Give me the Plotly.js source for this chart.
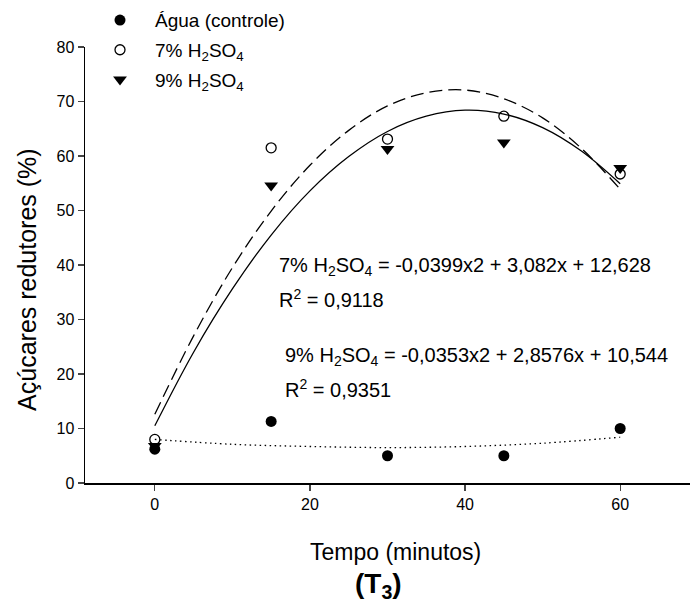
<!DOCTYPE html>
<html>
<head>
<meta charset="utf-8">
<script src="https://cdn.plot.ly/plotly-3.0.1.min.js"></script>
<style>html,body{margin:0;padding:0;background:#fff;}#chart{width:691px;height:604px;}</style>
</head>
<body>
<div id="chart"></div>
<script>
var tempo = [0, 15, 30, 45, 60];
var agua = [6.2, 11.3, 5.0, 5.0, 10.0];
var h2so4_7 = [8.0, 61.5, 63.1, 67.3, 56.7];
var h2so4_9 = [6.8, 54.6, 61.3, 62.5, 57.8];

// Fitted curves
var fitX = [0, 5, 10, 15, 20, 25, 30, 35, 40, 45, 50, 55, 60];
var fit7 = [12.6, 27.0, 39.5, 49.9, 58.3, 64.7, 69.2, 71.6, 72.1, 70.5, 67.0, 61.4, 53.9];
var fit9 = [10.5, 24.0, 35.6, 45.5, 53.6, 59.9, 64.5, 67.3, 68.4, 67.7, 65.2, 60.9, 54.9];
var fitAguaX = [0, 10, 20, 30, 40, 50, 60];
var fitAgua = [8.0, 7.1, 6.7, 6.5, 6.7, 7.3, 8.4];

var seriesNames = ['Água (controle)', '7% H<sub>2</sub>SO<sub>4</sub>', '9% H<sub>2</sub>SO<sub>4</sub>'];
var eq7 = ['7% H<sub>2</sub>SO<sub>4</sub> = -0,0399x2 + 3,082x + 12,628', 'R<sup>2</sup> = 0,9118'];
var eq9 = ['9% H<sub>2</sub>SO<sub>4</sub> = -0,0353x2 + 2,8576x + 10,544', 'R<sup>2</sup> = 0,9351'];
var xTitle = 'Tempo (minutos)';
var yTitle = 'Açúcares redutores (%)';
var panelLabel = '<b>(T<sub>3</sub>)</b>';

var FONT = 'Liberation Sans, Arial, sans-serif';

var traces = [
  {x: fitX, y: fit7, mode: 'lines', line: {shape: 'spline', color: '#000', width: 1.3, dash: '13px,6px'}, showlegend: false, hoverinfo: 'skip'},
  {x: fitX, y: fit9, mode: 'lines', line: {shape: 'spline', color: '#000', width: 1.3}, showlegend: false, hoverinfo: 'skip'},
  {x: fitAguaX, y: fitAgua, mode: 'lines', line: {shape: 'spline', color: '#000', width: 1.3, dash: '1.5px,3.5px'}, showlegend: false, hoverinfo: 'skip'},
  {x: tempo, y: h2so4_9, name: seriesNames[2], mode: 'markers', legendgroup: 'c', legendrank: 3,
   marker: {symbol: 'triangle-down', size: 12, color: '#000'}},
  {x: tempo, y: agua, name: seriesNames[0], mode: 'markers', legendgroup: 'a', legendrank: 1,
   marker: {symbol: 'circle', size: 11, color: '#000'}},
  {x: tempo, y: h2so4_7, name: seriesNames[1], mode: 'markers', legendgroup: 'b', legendrank: 2,
   marker: {symbol: 'circle-open', size: 10, color: '#000', line: {width: 1.3, color: '#000'}}}
];

function px2x(p) { return (p - 85) / 605; }
function px2y(p) { return (483 - p) / 438; }

var annFont = {family: FONT, size: 20, color: '#000'};
var layout = {
  width: 691, height: 604,
  margin: {l: 85, r: 1, t: 45, b: 121},
  paper_bgcolor: '#fff', plot_bgcolor: '#fff',
  font: {family: FONT, color: '#000', size: 16},
  showlegend: true,
  legend: {x: 0.0, y: 1.105, xanchor: 'left', yanchor: 'top', font: {family: FONT, size: 19, color: '#000'},
           itemwidth: 60, tracegroupgap: 2, bgcolor: 'rgba(0,0,0,0)', traceorder: 'grouped'},
  xaxis: {range: [-9, 69], tickvals: [0, 20, 40, 60], ticks: 'outside', ticklen: 6, tickwidth: 1.2,
          showline: true, linewidth: 1.5, linecolor: '#000', showgrid: false, zeroline: false,
          tickfont: {family: FONT, size: 16, color: '#000'}},
  yaxis: {range: [0, 80], dtick: 10, ticks: 'outside', ticklen: 6, tickwidth: 1.2,
          showline: true, linewidth: 1.5, linecolor: '#000', showgrid: false, zeroline: false,
          tickfont: {family: FONT, size: 16, color: '#000'}},
  annotations: [
    {xref: 'paper', yref: 'paper', x: px2x(395), y: px2y(552), xanchor: 'center', yanchor: 'middle', showarrow: false,
     text: xTitle, font: {family: FONT, size: 23, color: '#000'}},
    {xref: 'paper', yref: 'paper', x: px2x(27), y: px2y(279), xanchor: 'center', yanchor: 'middle', showarrow: false,
     textangle: -90, text: yTitle, font: {family: FONT, size: 25, color: '#000'}},
    {xref: 'paper', yref: 'paper', x: px2x(378), y: px2y(586), xanchor: 'center', yanchor: 'middle', showarrow: false,
     text: panelLabel, font: {family: FONT, size: 28, color: '#000'}},
    {xref: 'paper', yref: 'paper', x: px2x(277), y: px2y(266), xanchor: 'left', yanchor: 'middle', showarrow: false,
     text: eq7[0], font: annFont},
    {xref: 'paper', yref: 'paper', x: px2x(277), y: px2y(298), xanchor: 'left', yanchor: 'middle', showarrow: false,
     text: eq7[1], font: annFont},
    {xref: 'paper', yref: 'paper', x: px2x(283), y: px2y(356), xanchor: 'left', yanchor: 'middle', showarrow: false,
     text: eq9[0], font: annFont},
    {xref: 'paper', yref: 'paper', x: px2x(283), y: px2y(388), xanchor: 'left', yanchor: 'middle', showarrow: false,
     text: eq9[1], font: annFont}
  ]
};
Plotly.newPlot('chart', traces, layout, {displayModeBar: false, staticPlot: true});
</script>
</body>
</html>
